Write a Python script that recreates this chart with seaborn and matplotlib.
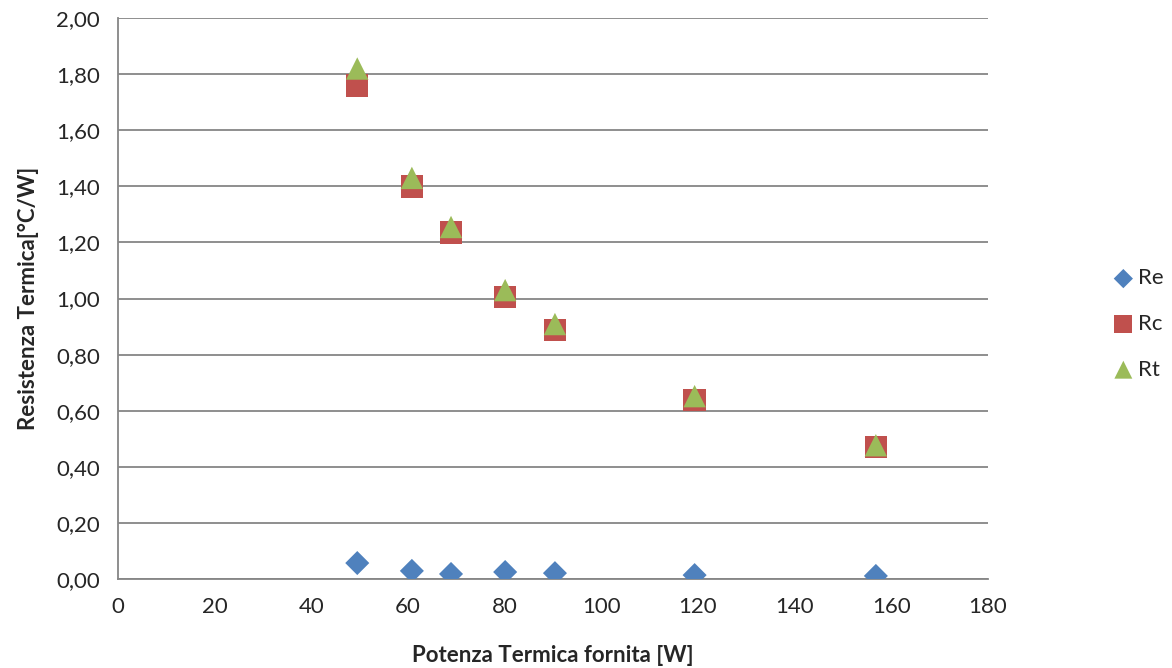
#Grafico resistenza termica vs potenza termica fornita

import numpy as np
import seaborn as sns
import matplotlib.pyplot as plt
from matplotlib.ticker import FuncFormatter

# Data
potenza = [49.5, 60.8, 68.9, 80.1, 90.4, 119.3, 156.8]
re_vals = [0.057, 0.029, 0.018, 0.025, 0.021, 0.014, 0.011]
rc_vals = [1.76, 1.40, 1.235, 1.005, 0.888, 0.638, 0.47]
rt_vals = [1.82, 1.43, 1.255, 1.03, 0.909, 0.652, 0.477]

sns.set_style("white")
plt.rcParams['font.family'] = ['Lato', 'DejaVu Sans']

fig = plt.figure(figsize=(11.72, 6.68), dpi=100)
ax = fig.add_axes([0.1007, 0.1332, 0.7423, 0.8398])

sns.scatterplot(x=potenza, y=re_vals, marker='D', s=150, color='#4F81BD', edgecolor='none', label='Re', ax=ax, zorder=3)
sns.scatterplot(x=potenza, y=rc_vals, marker='s', s=260, color='#C0504D', edgecolor='none', label='Rc', ax=ax, zorder=3)
sns.scatterplot(x=potenza, y=rt_vals, marker='^', s=260, color='#9BBB59', edgecolor='none', label='Rt', ax=ax, zorder=4)

ax.set_xlim(0, 180)
ax.set_ylim(0, 2.0)
ax.set_xticks(np.arange(0, 181, 20))
ax.set_yticks(np.arange(0, 2.01, 0.2))
ax.yaxis.set_major_formatter(FuncFormatter(lambda v, p: f"{v:.2f}".replace('.', ',')))

ax.grid(axis='y', color='#868686', linewidth=1.3)
ax.set_axisbelow(True)
for side in ['top', 'right']:
    ax.spines[side].set_visible(False)
for side in ['left', 'bottom']:
    ax.spines[side].set_color('#868686')
    ax.spines[side].set_linewidth(1.3)
ax.tick_params(axis='both', direction='out', length=7, width=1.3, color='#868686', labelsize=16, pad=6)

ax.set_xlabel("Potenza Termica fornita [W]", fontsize=16, fontweight='bold', labelpad=20)
ax.set_ylabel("Resistenza Termica[°C/W]", fontsize=16, fontweight='bold', labelpad=12)

ax.legend(loc='center left', bbox_to_anchor=(0.949, 0.515), bbox_transform=fig.transFigure,
          frameon=False, fontsize=16, handlelength=1.0, handletextpad=0.15, labelspacing=1.15,
          borderaxespad=0, borderpad=0, markerscale=0.8)

plt.savefig("out.png", dpi=100)
